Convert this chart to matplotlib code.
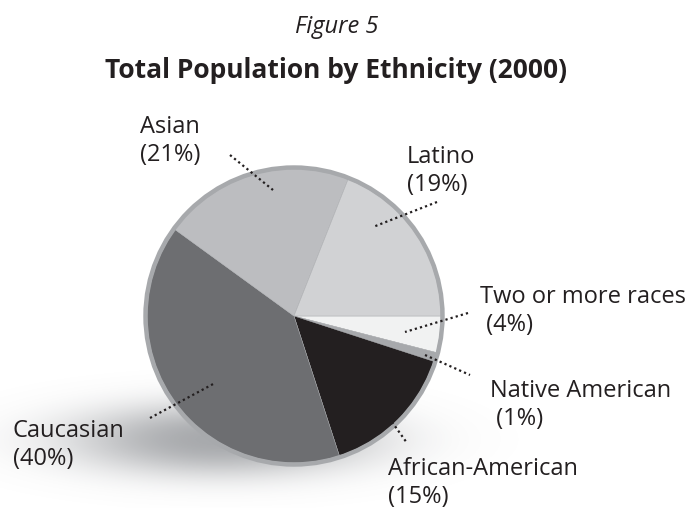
import numpy as np
import matplotlib
matplotlib.use('Agg')
import matplotlib.pyplot as plt
from matplotlib.patches import Circle

plt.rcParams['font.family'] = ['Open Sans', 'DejaVu Sans']

# data (clockwise from 3 o'clock)
groups = ['Two or more races', 'Native American', 'African-American',
          'Caucasian', 'Asian', 'Latino']
shares = [4, 1, 15, 40, 21, 19]
pct_text = [' (4%)', ' (1%)', '(15%)', '(40%)', '(21%)', '(19%)']
colors = ['#f1f2f2', '#a7a9ac', '#231f20', '#6d6e71', '#bcbdc0', '#d1d2d4']

# label placement in pixels (x, first baseline), leader line ends
label_pos = [(480, 303), (490, 397), (388, 475), (13, 437), (140, 133), (407, 163)]
leaders = [((468, 313), (405, 332)),
           ((425, 355), (470, 375)),
           ((392, 422), (407, 443)),
           ((150, 418), (215, 383)),
           ((230, 155), (273, 190)),
           ((437, 202), (373, 227))]

W, H = 687, 508
cx, cy, R = 294, 316, 147

fig = plt.figure(figsize=(W / 100, H / 100), dpi=100)
ax = fig.add_axes([0, 0, 1, 1])

# soft drop shadow under the pie
xs = np.linspace(0, W, 400)
ys = np.linspace(0, H, 300)
X, Y = np.meshgrid(xs, ys)
r = np.sqrt(((X - 220) / 175) ** 2 + ((Y - 440) / 42) ** 2)
alpha = 0.62 * np.exp(-r ** 2.4 * 1.4)
img = np.zeros((len(ys), len(xs), 4))
img[..., :3] = np.array([0.45, 0.46, 0.48])
img[..., 3] = alpha
ax.imshow(img, extent=(0, W, H, 0), zorder=0, interpolation='bilinear')

ax.pie(shares, colors=colors, startangle=0, counterclock=True,
       center=(cx, cy), radius=R, frame=True,
       wedgeprops=dict(linewidth=0.3, edgecolor='#a7a9ac'))
ax.add_patch(Circle((cx, cy), R + 1.5, fill=False, edgecolor='#a7a9ac',
                    linewidth=3.2, zorder=3))

for (x, y), name, pct in zip(label_pos, groups, pct_text):
    ax.text(x, y, name, fontsize=17, color='#231f20', va='baseline', ha='left')
    ax.text(x, y + 28, pct, fontsize=17, color='#231f20', va='baseline', ha='left')

for (p0, p1) in leaders:
    ax.plot([p0[0], p1[0]], [p0[1], p1[1]], color='#231f20', lw=1.6,
            ls=(0, (1, 1.4)), zorder=4)

ax.text(337, 33, 'Figure 5', fontsize=17, style='italic', color='#231f20',
        ha='center', va='baseline')
ax.text(336, 78, 'Total Population by Ethnicity (2000)', fontsize=19,
        fontweight='bold', color='#231f20', ha='center', va='baseline')

ax.set_xlim(0, W)
ax.set_ylim(H, 0)
ax.set_aspect('auto')
ax.axis('off')

fig.savefig('out.png', dpi=100)
